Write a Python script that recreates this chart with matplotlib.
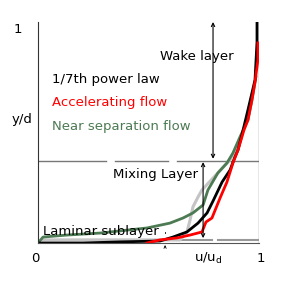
import matplotlib.pyplot as plt
import numpy as np

# curves (u/u_d, y/d)
power_u = [0, 0.204, 0.371, 0.552, 0.611, 0.674, 0.724, 0.765, 0.792, 0.833, 0.869, 0.891, 0.905, 0.928, 0.950, 0.982, 0.991, 0.991]
power_y = [0, 0, 0.005, 0.009, 0.027, 0.050, 0.090, 0.136, 0.190, 0.276, 0.330, 0.389, 0.421, 0.511, 0.602, 0.738, 0.910, 1.0]

accel_u = [0.493, 0.552, 0.629, 0.688, 0.742, 0.760, 0.787, 0.824, 0.855, 0.882, 0.905, 0.932, 0.950, 0.968, 0.982, 0.995, 0.995]
accel_y = [0.0, 0.014, 0.023, 0.036, 0.050, 0.095, 0.113, 0.204, 0.276, 0.362, 0.421, 0.511, 0.557, 0.647, 0.729, 0.828, 0.905]

sep_u = [0, 0.023, 0.131, 0.281, 0.493, 0.597, 0.656, 0.701, 0.747, 0.769, 0.814, 0.855, 0.882, 0.914, 0.950, 0.968, 0.986]
sep_y = [0, 0.027, 0.036, 0.045, 0.068, 0.090, 0.113, 0.136, 0.172, 0.240, 0.317, 0.362, 0.407, 0.480, 0.557, 0.647, 0.751]

gray_u = [0.023, 0.371, 0.643, 0.674, 0.688, 0.701, 0.724, 0.742, 0.792, 0.869, 0.914]
gray_y = [0.014, 0.014, 0.014, 0.050, 0.104, 0.163, 0.208, 0.240, 0.294, 0.376, 0.466]

mix_top = 0.371
lam_top = 0.014

green = '#4c7a52'

fig = plt.figure(figsize=(3.0, 2.81), dpi=100)
ax = fig.add_axes([38/300, 38/281, 221/300, 221/281])
ax.set_xlim(0, 1)
ax.set_ylim(0, 1)
for s in ['top', 'right']:
    ax.spines[s].set_visible(False)
ax.spines['left'].set_color('#333333')
ax.spines['bottom'].set_color('#555555')
ax.set_xticks([])
ax.set_yticks([])

# boundary lines
ax.plot([1, 1], [0, 1], c='#888888', lw=1)
for a, b in [(0, 0.308), (0.348, 0.588), (0.629, 1.0)]:
    ax.plot([a, b], [mix_top, mix_top], c='#777777', lw=1)
for a, b in [(0.023, 0.787), (0.814, 1.0)]:
    ax.plot([a, b], [lam_top, lam_top], c='#999999', lw=1.5)

# profiles
ax.plot(gray_u, gray_y, c='#c4c4c4', lw=2.2)
ax.plot(sep_u, sep_y, c=green, lw=2)
ax.plot(power_u, power_y, c='black', lw=2)
ax.plot(accel_u, accel_y, c='red', lw=2)

# layer arrows
ap = dict(arrowstyle='<->', lw=0.8, color='black', shrinkA=0, shrinkB=0, mutation_scale=6)
ax.annotate('', xy=(0.792, 1.0), xytext=(0.792, mix_top + 0.01), arrowprops=ap, annotation_clip=False)
ax.annotate('', xy=(0.747, mix_top - 0.005), xytext=(0.747, 0.022), arrowprops=ap)
ax.annotate('', xy=(0.575, -0.01), xytext=(0.575, -0.03),
            arrowprops=dict(arrowstyle='->', lw=0.6, color='black', mutation_scale=4), annotation_clip=False)
ax.plot([0.575, 0.575], [0.045, 0.052], c='black', lw=0.6)

fs = 9.5
ax.text(0.063, 0.738, '1/7th power law', fontsize=fs, va='center')
ax.text(0.063, 0.638, 'Accelerating flow', fontsize=fs, va='center', color='red')
ax.text(0.063, 0.525, 'Near separation flow', fontsize=fs, va='center', color=green)
ax.text(0.552, 0.842, 'Wake layer', fontsize=fs, va='center')
ax.text(0.339, 0.308, 'Mixing Layer', fontsize=fs, va='center')
ax.text(0.023, 0.054, 'Laminar sublayer', fontsize=fs, va='center')

ax.text(-0.09, 0.964, '1', fontsize=fs, ha='center', va='center', clip_on=False)
ax.text(-0.07, 0.56, 'y/d', fontsize=fs, ha='center', va='center', clip_on=False)
ax.text(-0.014, -0.072, '0', fontsize=fs, ha='center', va='center', clip_on=False)
ax.text(0.77, -0.072, 'u/u$_\\mathregular{d}$', fontsize=fs, ha='center', va='center', clip_on=False)
ax.text(1.01, -0.072, '1', fontsize=fs, ha='center', va='center', clip_on=False)

fig.savefig('out.png', dpi=100)
